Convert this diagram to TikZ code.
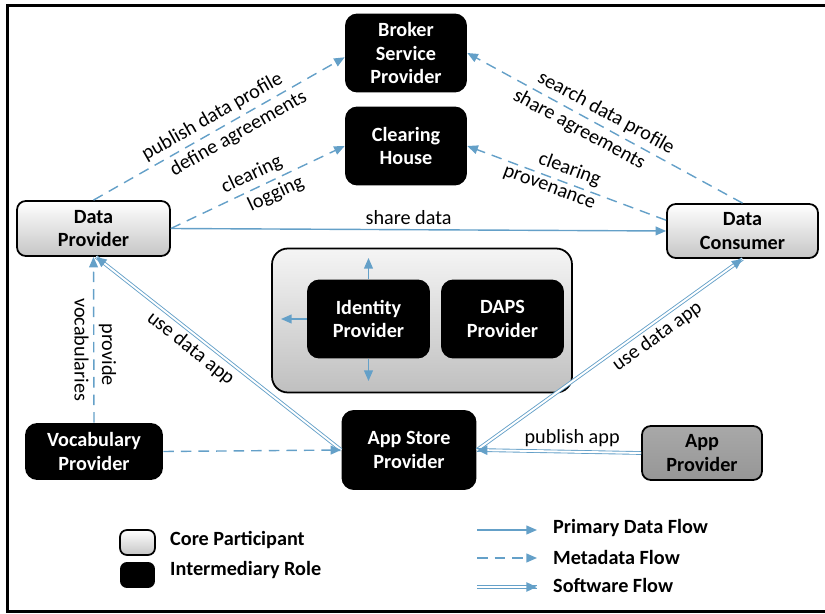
\documentclass[tikz,border=0pt]{standalone}
\usepackage{fontspec}
\setmainfont{Carlito}
\usepackage{tikz}
\usetikzlibrary{arrows.meta,positioning,decorations.markings}

\definecolor{flowblue}{RGB}{100,160,200}

\begin{document}
\begin{tikzpicture}[x=0.02cm,y=-0.02cm,
    font=\fontsize{11.5}{13.5}\selectfont,
    core/.style={draw,line width=1pt,rounded corners=5pt,top color=white,bottom color=gray!45,font=\fontsize{11.5}{13.5}\selectfont\bfseries,align=center},
    inter/.style={fill=black,text=white,rounded corners=7pt,font=\fontsize{11.5}{13.5}\selectfont\bfseries,align=center},
    flow/.style={flowblue,line width=0.8pt,-{Triangle[length=6pt,width=5pt]}},
    meta/.style={flow,dash pattern=on 6pt off 4pt},
    soft/.style={flowblue,line width=0.5pt,double=white,double distance=1.1pt,
        postaction={decorate,decoration={markings,mark=at position 1 with {\arrow{Triangle[length=6pt,width=5pt]}}}}},
    lbl/.style={text=black,inner sep=2.5pt},
    slbl/.style={lbl,sloped},
    legtext/.style={anchor=west,font=\fontsize{11.5}{13.5}\selectfont\bfseries}]
    \useasboundingbox (0,0) rectangle (825,614);
    \draw [line width=1.8pt] (7.5,5.5) rectangle (840,611.5);

    % roles
    \node [inter,minimum width=2.44cm,minimum height=1.58cm] (broker) at (406,53) {Broker\\Service\\Provider};
    \node [inter,minimum width=2.44cm,minimum height=1.58cm] (clearing) at (406,146) {Clearing\\House};
    \node [core,minimum width=3.06cm,minimum height=1.1cm] (dp) at (93.5,228.5) {Data\\Provider};
    \node [core,minimum width=3.02cm,minimum height=1.08cm] (dc) at (742.5,231) {Data\\Consumer};
    \node [draw,line width=1pt,rounded corners=9pt,top color=gray!8,bottom color=gray!50,minimum width=6cm,minimum height=2.88cm] (trust) at (422,320.5) {};
    \node [inter,minimum width=2.46cm,minimum height=1.58cm] (idp) at (368.5,319) {Identity\\Provider};
    \node [inter,minimum width=2.46cm,minimum height=1.58cm] (daps) at (502.5,319) {DAPS\\Provider};
    \node [inter,minimum width=2.7cm,minimum height=1.6cm] (store) at (409,450) {App Store\\Provider};
    \node [inter,minimum width=2.76cm,minimum height=1.14cm] (vocab) at (94,451.5) {Vocabulary\\Provider};
    \node [core,top color=gray!68,bottom color=gray!82,minimum width=2.4cm,minimum height=1.08cm] (appprov) at (702,453) {App\\Provider};

    % flows
    \draw [meta] (dp.north) -- (broker.184)
        node [slbl,above,pos=0.5] {publish data profile}
        node [slbl,below,pos=0.55] {define agreements};
    \draw [meta] (dp.east) -- (clearing.west)
        node [slbl,above,pos=0.5] {clearing}
        node [slbl,below,pos=0.57] {logging};
    \draw [flow] (dp.east) -- (dc.west) node [lbl,above,pos=0.48] {share data};
    \draw [meta] (dc.north) -- (broker.east)
        node [slbl,above,pos=0.52] {search data profile}
        node [slbl,below,pos=0.57] {share agreements};
    \draw [meta] (dc.172) -- (clearing.east)
        node [slbl,above,pos=0.51] {clearing}
        node [slbl,below,pos=0.57] {provenance};
    \draw [soft] (store.west) -- (dp.-85) node [slbl,below,pos=0.58] {use data app};
    \draw [soft] (store.east) -- (dc.south) node [slbl,below,pos=0.65] {use data app};
    \draw [soft] (appprov.west) -- (store.east) node [lbl,above,pos=0.42] {publish app};
    \draw [meta] (vocab.north) -- (dp.south)
        node [lbl,rotate=-90,above,pos=0.41] {provide}
        node [lbl,rotate=-90,below,pos=0.44] {vocabularies};
    \draw [meta] (vocab.east) -- (store.west);

    % identity provider arrows
    \coordinate (idup) at (368.5,258);
    \coordinate (idleft) at (281,319);
    \coordinate (iddown) at (368.5,381);
    \draw [flow] (idp.north) -- (idup);
    \draw [flow] (idp.west) -- (idleft);
    \draw [flow] (idp.south) -- (iddown);

    % legend
    \node [core,rounded corners=4pt,minimum width=0.7cm,minimum height=0.5cm] (legcore) at (137.5,542.5) {};
    \node [inter,rounded corners=4pt,minimum width=0.7cm,minimum height=0.52cm] (leginter) at (137.5,575) {};
    \node [legtext] (legcoretxt) at (164,540) {Core Participant};
    \node [legtext] (leginttxt) at (164,570) {Intermediary Role};
    \node [legtext] (legprim) at (547,528) {Primary Data Flow};
    \node [legtext] (legmeta) at (547,557) {Metadata Flow};
    \node [legtext] (legsoft) at (547,585) {Software Flow};
    \coordinate (prima) at (477,530);
    \coordinate (primb) at (537,530);
    \coordinate (metaa) at (477,558);
    \coordinate (metab) at (537,558);
    \coordinate (softa) at (477,587);
    \coordinate (softb) at (537,587);
    \draw [flow] (prima) -- (primb);
    \draw [meta] (metaa) -- (metab);
    \draw [soft] (softa) -- (softb);
\end{tikzpicture}
\end{document}
